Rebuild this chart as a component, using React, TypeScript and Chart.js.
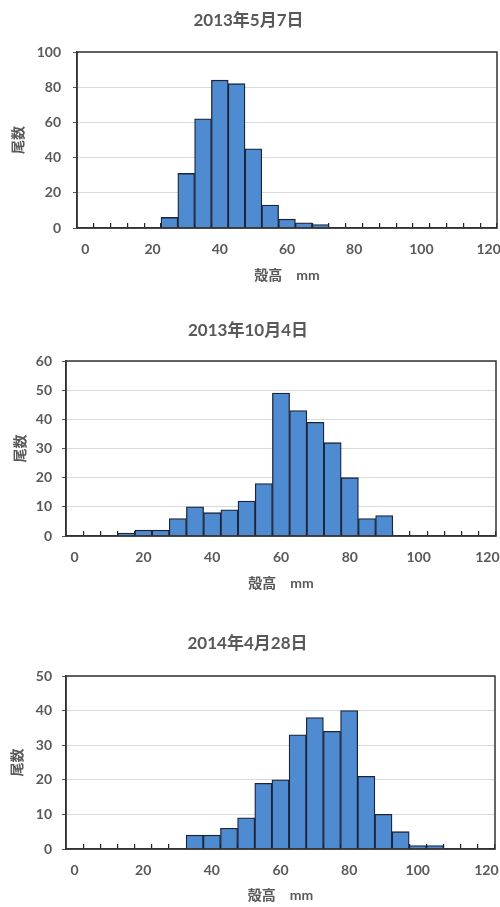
import React, { useEffect, useRef } from "react";
import { Chart, registerables } from "chart.js";

Chart.register(...registerables);

// ---- data ----
const categories: string[] = [
  "0", "5", "10", "15", "20", "25", "30", "35", "40", "45", "50", "55", "60",
  "65", "70", "75", "80", "85", "90", "95", "100", "105", "110", "115", "120",
];
const tickLabels: string[] = ["0", "20", "40", "60", "80", "100", "120"];

const title2013May = "2013年5月7日";
const title2013Oct = "2013年10月4日";
const title2014Apr = "2014年4月28日";

const xAxisTitle = "殻高　mm";
const yAxisTitle = "尾数";

const counts2013May: (number | null)[] = [
  null, null, null, null, null, 6, 31, 62, 84, 82, 45, 13, 5,
  3, 2, null, null, null, null, null, null, null, null, null, null,
];
const counts2013Oct: (number | null)[] = [
  null, null, null, 1, 2, 2, 6, 10, 8, 9, 12, 18, 49,
  43, 39, 32, 20, 6, 7, null, null, null, null, null, null,
];
const counts2014Apr: (number | null)[] = [
  null, null, null, null, null, null, null, 4, 4, 6, 9, 19, 20,
  33, 38, 34, 40, 21, 10, 5, 1, 1, null, null, null,
];

const yMax2013May = 100;
const yStep2013May = 20;
const yMax2013Oct = 60;
const yStep2013Oct = 10;
const yMax2014Apr = 50;
const yStep2014Apr = 10;

// ---- styles ----
const FONT = 'Lato, "Noto Sans CJK JP", sans-serif';
const TEXT = "#595959";
const BAR_FILL = "#4f8bd1";
const BAR_BORDER = "#1c2438";
const AXIS = "#333333";

const framePlugin = {
  id: "frame",
  afterDatasetsDraw(chart: any) {
    const { ctx, chartArea } = chart;
    const { left, top, right, bottom } = chartArea;
    ctx.save();
    ctx.strokeStyle = AXIS;
    ctx.lineWidth = 1.5;
    ctx.strokeRect(left, top, right - left, bottom - top);
    ctx.restore();
  },
};

type Layout = {
  height: number;
  titlePadTop: number;
  titlePadBottom: number;
  yWidth: number;
  yTitlePad: number;
  yTickPad: number;
  xHeight: number;
  xTitlePadBottom: number;
  padRight: number;
};

function Histogram(props: {
  title: string;
  counts: (number | null)[];
  yMax: number;
  yStep: number;
  layout: Layout;
}) {
  const ref = useRef<HTMLCanvasElement | null>(null);
  const { title, counts, yMax, yStep, layout } = props;

  useEffect(() => {
    if (!ref.current) return;
    const chart = new Chart(ref.current, {
      type: "bar",
      data: {
        labels: categories,
        datasets: [
          {
            data: counts,
            backgroundColor: BAR_FILL,
            borderColor: BAR_BORDER,
            borderWidth: 1.3,
            categoryPercentage: 1,
            barPercentage: 1,
          },
        ],
      },
      options: {
        responsive: false,
        animation: false,
        layout: { padding: { left: 0, right: layout.padRight, top: 0, bottom: 0 } },
        plugins: {
          legend: { display: false },
          tooltip: { enabled: false },
          title: {
            display: true,
            text: title,
            color: TEXT,
            font: { family: FONT, size: 17, weight: "bold", lineHeight: 1.2 },
            padding: { top: layout.titlePadTop, bottom: layout.titlePadBottom },
          },
        },
        scales: {
          x: {
            type: "category",
            offset: true,
            afterFit: (scale: any) => {
              scale.height = layout.xHeight;
              scale.paddingLeft = 0;
              scale.paddingRight = 0;
            },
            grid: {
              display: true,
              offset: true,
              drawOnChartArea: false,
              drawTicks: true,
              tickLength: -5,
              tickColor: "#222222",
              lineWidth: 1.2,
            },
            border: { display: true, color: AXIS, width: 1.5 },
            ticks: {
              autoSkip: false,
              maxRotation: 0,
              padding: 17.6,
              color: TEXT,
              font: { family: FONT, size: 14, weight: "bold", lineHeight: 1.2 },
              callback: (_v: any, index: number) =>
                tickLabels.includes(categories[index]) ? categories[index] : "",
            },
            title: {
              display: true,
              text: xAxisTitle,
              color: TEXT,
              font: { family: FONT, size: 14, weight: "bold", lineHeight: 1.2 },
              padding: { top: 0, bottom: layout.xTitlePadBottom },
            },
          },
          y: {
            min: 0,
            max: yMax,
            afterFit: (scale: any) => {
              scale.width = layout.yWidth;
            },
            grid: {
              color: "#d9d9d9",
              lineWidth: 1,
              tickColor: "#595959",
              tickLength: 4,
            },
            border: { display: true, color: AXIS, width: 1.5 },
            ticks: {
              stepSize: yStep,
              padding: layout.yTickPad,
              color: TEXT,
              font: { family: FONT, size: 14, weight: "bold", lineHeight: 1.2 },
            },
            title: {
              display: true,
              text: yAxisTitle,
              color: TEXT,
              font: { family: FONT, size: 14, weight: "bold", lineHeight: 1.2 },
              padding: { top: layout.yTitlePad, bottom: 0 },
            },
          },
        },
      },
      plugins: [framePlugin],
    });
    return () => chart.destroy();
  }, [title, counts, yMax, yStep, layout]);

  return (
    <div style={{ width: 500, height: layout.height }}>
      <canvas
        ref={ref}
        width={500}
        height={layout.height}
        style={{ display: "block", width: 500, height: layout.height }}
      />
    </div>
  );
}

const layoutA: Layout = {
  height: 300,
  titlePadTop: 10.8,
  titlePadBottom: 20.8,
  yWidth: 77,
  yTitlePad: 9.6,
  yTickPad: 12,
  xHeight: 72,
  xTitlePadBottom: 16.6,
  padRight: 3,
};
const layoutB: Layout = {
  height: 300,
  titlePadTop: 20.8,
  titlePadBottom: 19.8,
  yWidth: 66,
  yTitlePad: 11.6,
  yTickPad: 10,
  xHeight: 64,
  xTitlePadBottom: 8.6,
  padRight: 4,
};
const layoutC: Layout = {
  height: 307,
  titlePadTop: 33.8,
  titlePadBottom: 21.8,
  yWidth: 66,
  yTitlePad: 8.6,
  yTickPad: 10,
  xHeight: 58,
  xTitlePadBottom: 3.6,
  padRight: 5,
};

export default function App() {
  useEffect(() => {
    document.body.style.margin = "0";
    document.body.style.background = "#ffffff";
  }, []);
  return (
    <div style={{ width: 500, height: 907, background: "#ffffff" }}>
      <Histogram title={title2013May} counts={counts2013May} yMax={yMax2013May} yStep={yStep2013May} layout={layoutA} />
      <Histogram title={title2013Oct} counts={counts2013Oct} yMax={yMax2013Oct} yStep={yStep2013Oct} layout={layoutB} />
      <Histogram title={title2014Apr} counts={counts2014Apr} yMax={yMax2014Apr} yStep={yStep2014Apr} layout={layoutC} />
    </div>
  );
}
